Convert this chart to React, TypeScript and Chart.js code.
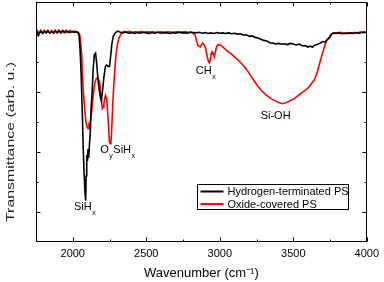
import React, { useEffect, useRef } from 'react';
import { Chart, registerables } from 'chart.js';

Chart.register(...registerables);

const FONT = '"Liberation Sans", Arial, Helvetica, sans-serif';

const seriesLabels = ['Hydrogen-terminated PS', 'Oxide-covered PS'];
const seriesColors = ['#000000', '#ff0000'];

const hWavenumber = [
  1750, 1758, 1766, 1774, 1785, 1797, 1808, 1820, 1832, 1845, 1858, 1870, 1882, 1895, 1908, 1920, 1935, 1950, 1965, 1980,
  1995, 2010, 2025, 2037, 2043, 2050, 2057, 2065, 2072, 2078, 2084, 2088, 2091, 2095, 2100, 2104, 2108, 2113, 2120, 2125,
  2131, 2138, 2147, 2155, 2162, 2172, 2185, 2194, 2202, 2212, 2222, 2230, 2240, 2250, 2258, 2266, 2275, 2290, 2305, 2320,
  2340, 2360, 2380, 2400, 2420, 2440, 2460, 2480, 2500, 2520, 2540, 2560, 2580, 2600, 2620, 2640, 2660, 2680, 2700, 2720,
  2740, 2760, 2780, 2800, 2820, 2840, 2860, 2880, 2900, 2920, 2940, 2960, 2980, 3000, 3020, 3040, 3060, 3080, 3100, 3120,
  3140, 3160, 3180, 3200, 3220, 3240, 3260, 3280, 3300, 3320, 3340, 3360, 3380, 3400, 3420, 3440, 3460, 3480, 3500, 3520,
  3540, 3560, 3580, 3600, 3615, 3630, 3645, 3660, 3680, 3700, 3715, 3730, 3745, 3760, 3775, 3790, 3810, 3830, 3850, 3870,
  3890, 3910, 3930, 3950, 3970, 3985, 4000,
];
const hTransmittance = [
  6.98, 6.93, 6.88, 6.97, 7.02, 6.96, 7.03, 6.97, 7.03, 6.96, 7.02, 6.97, 7.04, 6.98, 7.03, 6.97, 7.04, 6.98, 7.03, 6.98,
  7.02, 6.99, 7.01, 6.97, 6.9, 6.4, 5.6, 4.3, 3.0, 2.2, 1.6, 1.38, 2.2, 2.9, 2.7, 3.1, 2.8, 3.2, 3.7, 4.5,
  4.9, 5.7, 6.25, 6.3, 6.0, 5.4, 4.9, 4.72, 5.0, 5.5, 5.85, 5.9, 5.85, 5.85, 6.2, 6.6, 6.85, 6.97, 7.03, 7.0,
  6.97, 7.0, 6.96, 6.98, 6.95, 6.98, 6.96, 6.99, 6.97, 6.95, 6.98, 6.96, 6.99, 6.96, 6.98, 6.97, 6.95, 6.98, 6.96, 6.99,
  6.97, 6.98, 6.96, 6.99, 6.98, 6.97, 6.99, 6.96, 6.98, 6.95, 6.97, 6.95, 6.98, 6.96, 6.97, 6.95, 6.97, 6.94, 6.96, 6.93,
  6.94, 6.9, 6.91, 6.86, 6.87, 6.82, 6.8, 6.76, 6.72, 6.7, 6.64, 6.63, 6.6, 6.62, 6.59, 6.61, 6.58, 6.62, 6.6, 6.57,
  6.6, 6.54, 6.55, 6.5, 6.53, 6.49, 6.56, 6.58, 6.62, 6.68, 6.66, 6.74, 6.82, 6.93, 6.97, 6.95, 6.97, 6.94, 6.96, 6.95,
  6.97, 6.95, 6.98, 6.96, 6.99, 6.98, 7.0,
];

const oWavenumber = [
  1750, 1760, 1770, 1782, 1794, 1806, 1818, 1830, 1842, 1855, 1868, 1880, 1892, 1905, 1917, 1930, 1942, 1955, 1968, 1980,
  1995, 2010, 2025, 2040, 2048, 2055, 2060, 2070, 2080, 2088, 2096, 2104, 2110, 2115, 2122, 2130, 2138, 2150, 2160, 2171,
  2183, 2192, 2201, 2207, 2212, 2218, 2223, 2232, 2241, 2250, 2255, 2260, 2264, 2272, 2284, 2295, 2305, 2313, 2329, 2345,
  2365, 2385, 2405, 2425, 2445, 2465, 2485, 2505, 2525, 2545, 2565, 2585, 2605, 2625, 2645, 2665, 2685, 2705, 2725, 2745,
  2765, 2785, 2800, 2815, 2825, 2833, 2842, 2851, 2860, 2867, 2875, 2883, 2892, 2901, 2910, 2918, 2925, 2930, 2936, 2941,
  2947, 2952, 2958, 2963, 2969, 2975, 2982, 2990, 3000, 3012, 3028, 3046, 3062, 3080, 3100, 3125, 3148, 3170, 3192, 3214,
  3236, 3259, 3282, 3304, 3326, 3349, 3372, 3394, 3410, 3428, 3445, 3461, 3484, 3506, 3528, 3551, 3574, 3596, 3618, 3641,
  3652, 3663, 3674, 3685, 3697, 3708, 3719, 3730, 3748, 3756, 3764, 3780, 3798, 3820, 3845, 3868, 3888, 3910, 3935, 3955,
  3977, 4000,
];
const oTransmittance = [
  6.96, 7.05, 6.97, 7.06, 6.96, 7.05, 6.97, 7.06, 6.97, 7.05, 6.96, 7.06, 6.97, 7.07, 6.98, 7.05, 6.97, 7.06, 6.98, 7.05,
  7.0, 7.03, 7.0, 6.98, 6.9, 6.6, 6.28, 5.17, 4.5, 4.06, 3.85, 3.78, 3.9, 3.85, 4.1, 4.4, 4.84, 5.3, 5.45, 5.48,
  5.33, 4.9, 4.45, 4.5, 4.61, 4.8, 4.89, 4.72, 4.06, 3.33, 3.28, 3.35, 3.61, 4.61, 5.61, 6.28, 6.6, 6.78, 6.95, 7.02,
  7.0, 7.02, 6.99, 7.01, 7.0, 7.02, 6.99, 7.01, 7.0, 7.01, 6.99, 7.0, 7.01, 6.99, 7.01, 7.0, 6.99, 7.01, 7.0, 7.0,
  7.01, 6.99, 7.0, 6.97, 6.93, 6.89, 6.7, 6.56, 6.52, 6.5, 6.58, 6.63, 6.58, 6.5, 6.3, 6.11, 5.99, 5.97, 6.1, 6.28,
  6.34, 6.33, 6.25, 6.17, 6.3, 6.45, 6.55, 6.58, 6.57, 6.54, 6.47, 6.39, 6.33, 6.26, 6.17, 6.06, 5.95, 5.83, 5.68, 5.52,
  5.36, 5.19, 5.06, 4.95, 4.86, 4.78, 4.72, 4.67, 4.63, 4.61, 4.63, 4.67, 4.72, 4.78, 4.86, 4.95, 5.03, 5.11, 5.24, 5.39,
  5.5, 5.67, 5.85, 6.06, 6.26, 6.45, 6.61, 6.74, 6.8, 6.9, 6.94, 6.97, 6.97, 6.99, 6.96, 6.98, 6.95, 6.98, 6.97, 7.0,
  7.0, 7.01,
];

const xTickLabels = [2000, 2500, 3000, 3500, 4000];
const xMinorTicks = [2250, 2750, 3250, 3750];
const yMajorTicks = [1, 3, 5, 7];
const yMinorTicks = [2, 4, 6];

// peak annotations: text parts ("_" prefix = subscript), anchored at data coords
const peakTexts = [
  ['SiH', '_x'],
  ['O', '_y', 'SiH', '_x'],
  ['CH', '_x'],
  ['Si-OH'],
];
const peakX = [2008, 2187, 2837, 3278];
const peakY = [1.16, 3.08, 5.69, 4.19];

const xTitle = 'Wavenumber (cm\u207B\u00B9)';
const yTitle = 'Transmittance (arb. u.)';

const decorPlugin = {
  id: 'decor',
  afterDraw(chart: any) {
    const { ctx, chartArea: a, scales } = chart;
    const xs = scales.x;
    const ys = scales.y;
    ctx.save();
    // frame
    const L = Math.round(a.left) + 0.5;
    const R = Math.round(a.right) - 0.5;
    const T = Math.round(a.top) + 0.5;
    const B = Math.round(a.bottom) - 0.5;
    ctx.strokeStyle = '#000';
    ctx.lineWidth = 1;
    ctx.strokeRect(L, T, R - L, B - T);
    ctx.beginPath();
    const xt = (v: number, len: number) => {
      const p = Math.round(xs.getPixelForValue(v)) + 0.5;
      ctx.moveTo(p, B);
      ctx.lineTo(p, B - len);
      ctx.moveTo(p, T);
      ctx.lineTo(p, T + len);
    };
    const yt = (v: number, len: number) => {
      const p = Math.round(ys.getPixelForValue(v)) + 0.5;
      ctx.moveTo(L, p);
      ctx.lineTo(L + len, p);
      ctx.moveTo(R, p);
      ctx.lineTo(R - len, p);
    };
    xTickLabels.forEach((v) => xt(v, 4));
    xMinorTicks.forEach((v) => xt(v, 2));
    yMajorTicks.forEach((v) => yt(v, 4));
    yMinorTicks.forEach((v) => yt(v, 2));
    ctx.stroke();

    // y title (stretched along its length as in the reference)
    ctx.save();
    ctx.fillStyle = '#222';
    ctx.font = `11px ${FONT}`;
    ctx.textAlign = 'center';
    ctx.textBaseline = 'middle';
    ctx.translate(a.left - 25, chart.height / 2 + 1);
    ctx.rotate(-Math.PI / 2);
    const w = ctx.measureText(yTitle).width;
    ctx.scale(160 / w, 1);
    ctx.fillText(yTitle, 0, 0);
    ctx.restore();

    // peak labels
    ctx.fillStyle = '#000';
    ctx.textBaseline = 'middle';
    ctx.textAlign = 'left';
    peakTexts.forEach((parts, i) => {
      let px = xs.getPixelForValue(peakX[i]);
      const py = ys.getPixelForValue(peakY[i]);
      parts.forEach((part) => {
        if (part.startsWith('_')) {
          const t = part.slice(1);
          ctx.font = `7px ${FONT}`;
          ctx.fillText(t, px + 0.5, py + 6);
          px += ctx.measureText(t).width + 1;
        } else {
          ctx.font = `11px ${FONT}`;
          ctx.fillText(part, px, py);
          px += ctx.measureText(part).width;
        }
      });
    });

    // legend
    const bx = Math.round(a.right - 170) + 0.5;
    const by = Math.round(a.bottom - 58) + 0.5;
    const bw = 151;
    const bh = 25;
    ctx.fillStyle = '#fff';
    ctx.fillRect(bx, by, bw, bh);
    ctx.strokeStyle = '#000';
    ctx.lineWidth = 1;
    ctx.strokeRect(bx, by, bw, bh);
    ctx.font = `11px ${FONT}`;
    chart.data.datasets.forEach((ds: any, i: number) => {
      const ly = by + 7 + i * 12.5;
      ctx.strokeStyle = ds.borderColor;
      ctx.lineWidth = 2;
      ctx.beginPath();
      ctx.moveTo(bx + 3, ly);
      ctx.lineTo(bx + 26, ly);
      ctx.stroke();
      ctx.fillStyle = '#000';
      ctx.fillText(ds.label, bx + 30, ly + 0.5);
    });
    ctx.restore();
  },
};

export default function App() {
  const ref = useRef<HTMLCanvasElement>(null);
  useEffect(() => {
    const toPts = (xs: number[], ys: number[]) => xs.map((x, i) => ({ x, y: ys[i] }));
    const chart = new Chart(ref.current as HTMLCanvasElement, {
      type: 'line',
      data: {
        datasets: [
          {
            label: seriesLabels[0],
            data: toPts(hWavenumber, hTransmittance),
            borderColor: seriesColors[0],
            borderWidth: 1.6,
            pointRadius: 0,
            tension: 0,
          },
          {
            label: seriesLabels[1],
            data: toPts(oWavenumber, oTransmittance),
            borderColor: seriesColors[1],
            borderWidth: 1.6,
            pointRadius: 0,
            tension: 0,
          },
        ],
      },
      options: {
        animation: false,
        responsive: false,
        events: [],
        layout: { padding: { left: 36, top: 2, right: 13, bottom: 0 } },
        plugins: { legend: { display: false }, tooltip: { enabled: false } },
        scales: {
          x: {
            type: 'linear',
            min: 1750,
            max: 4000,
            grid: { display: false, drawTicks: false },
            border: { display: false },
            afterBuildTicks: (s: any) => {
              s.ticks = xTickLabels.map((v) => ({ value: v }));
            },
            afterFit: (s: any) => {
              s.height = 40;
            },
            ticks: {
              color: '#000',
              padding: 5,
              maxRotation: 0,
              font: { family: FONT, size: 11 },
              callback: (v: any) => String(v),
            },
            title: {
              display: true,
              text: xTitle,
              color: '#000',
              font: { family: FONT, size: 13 },
              padding: { top: 6, bottom: 1 },
            },
          },
          y: {
            type: 'linear',
            min: 0,
            max: 8,
            display: false,
          },
        },
      },
      plugins: [decorPlugin],
    });
    return () => chart.destroy();
  }, []);
  return (
    <div style={{ position: 'absolute', left: 0, top: 0, width: 384, height: 282, background: '#fff' }}>
      <canvas ref={ref} width={384} height={282} style={{ display: 'block' }} />
    </div>
  );
}
